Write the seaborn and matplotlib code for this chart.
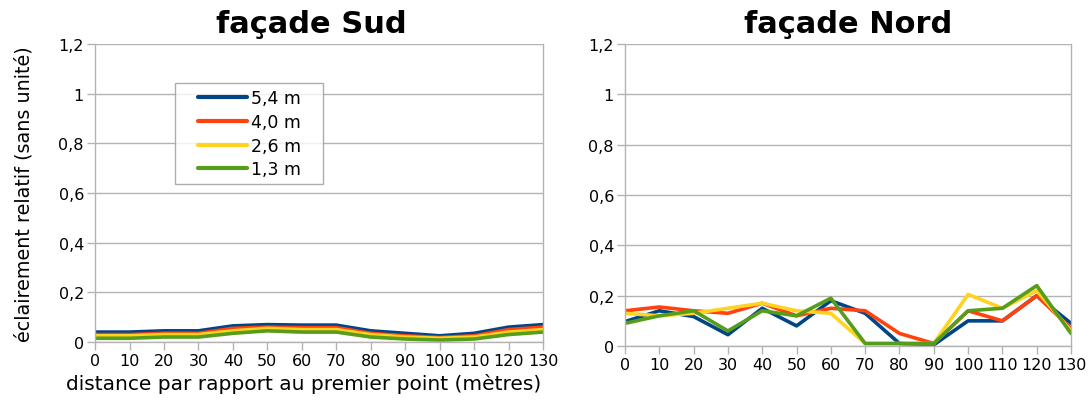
import numpy as np
import pandas as pd
import matplotlib
matplotlib.use('Agg')
import matplotlib.pyplot as plt
import seaborn as sns

# ------------------------------
# Données
# ------------------------------
distance = [0, 10, 20, 30, 40, 50, 60, 70, 80, 90, 100, 110, 120, 130]
hauteurs = ['5,4 m', '4,0 m', '2,6 m', '1,3 m']
couleurs = ['#004586', '#ff420e', '#ffd320', '#579d1c']

sud_54 = [0.040, 0.040, 0.045, 0.045, 0.065, 0.070, 0.068, 0.068, 0.045, 0.035, 0.025, 0.035, 0.060, 0.070]
sud_40 = [0.030, 0.030, 0.035, 0.035, 0.055, 0.060, 0.058, 0.058, 0.035, 0.025, 0.018, 0.025, 0.050, 0.060]
sud_26 = [0.025, 0.025, 0.030, 0.030, 0.045, 0.055, 0.050, 0.050, 0.030, 0.020, 0.015, 0.020, 0.040, 0.050]
sud_13 = [0.015, 0.015, 0.020, 0.020, 0.035, 0.045, 0.040, 0.040, 0.020, 0.012, 0.008, 0.012, 0.030, 0.040]

nord_54 = [0.097, 0.140, 0.117, 0.045, 0.150, 0.080, 0.180, 0.130, 0.010, 0.005, 0.100, 0.100, 0.200, 0.090]
nord_40 = [0.140, 0.155, 0.140, 0.130, 0.170, 0.120, 0.150, 0.140, 0.050, 0.010, 0.140, 0.100, 0.200, 0.070]
nord_26 = [0.130, 0.120, 0.130, 0.150, 0.170, 0.140, 0.130, 0.010, 0.010, 0.010, 0.205, 0.150, 0.220, 0.060]
nord_13 = [0.090, 0.120, 0.140, 0.060, 0.140, 0.120, 0.190, 0.010, 0.010, 0.010, 0.140, 0.150, 0.240, 0.050]


def to_long(series):
    frames = []
    for h, vals in zip(hauteurs, series):
        frames.append(pd.DataFrame({'distance': distance, 'valeur': vals, 'hauteur': h}))
    return pd.concat(frames, ignore_index=True)


df_sud = to_long([sud_54, sud_40, sud_26, sud_13])
df_nord = to_long([nord_54, nord_40, nord_26, nord_13])

# ------------------------------
# Figure
# ------------------------------
sns.set_theme(style='white')
plt.rcParams['font.family'] = ['DejaVu Sans']

fig = plt.figure(figsize=(10.9, 4.14), dpi=100)
ax1 = fig.add_axes([0.0872, 0.1715, 0.411, 0.7195])
ax2 = fig.add_axes([0.5734, 0.1618, 0.4092, 0.7295])

palette = dict(zip(hauteurs, couleurs))
grid_col = '#b3b3b3'


def style_axes(ax, title, title_x):
    ax.set_xlim(0, 130)
    ax.set_ylim(0, 1.2)
    ax.set_xticks(distance)
    ax.set_xticklabels([str(d) for d in distance], fontsize=11.5)
    ax.set_yticks([0, 0.2, 0.4, 0.6, 0.8, 1.0, 1.2])
    ax.set_yticklabels(['0', '0,2', '0,4', '0,6', '0,8', '1', '1,2'], fontsize=11.5)
    ax.yaxis.grid(True, color=grid_col, linewidth=1)
    ax.set_axisbelow(True)
    for s in ['left', 'right', 'bottom']:
        ax.spines[s].set_visible(True)
        ax.spines[s].set_color(grid_col)
        ax.spines[s].set_linewidth(1)
    ax.spines['top'].set_visible(False)
    ax.tick_params(axis='both', which='both', direction='out', length=6,
                   width=1, color=grid_col, labelcolor='black', pad=2,
                   bottom=True, left=True)
    ax.set_title(title, fontsize=22, fontweight='bold', color='black',
                 x=title_x, pad=9)


sns.lineplot(data=df_sud, x='distance', y='valeur', hue='hauteur',
             palette=palette, linewidth=2.6, ax=ax1, legend=True)
sns.lineplot(data=df_nord, x='distance', y='valeur', hue='hauteur',
             palette=palette, linewidth=2.6, ax=ax2, legend=False)

style_axes(ax1, 'façade Sud', 0.482)
style_axes(ax2, 'façade Nord', 0.5)

ax1.set_xlabel('distance par rapport au premier point (mètres)', fontsize=14.5,
               color='black', labelpad=1)
ax1.xaxis.set_label_coords(0.465, -0.105)
ax1.set_ylabel('éclairement relatif (sans unité)', fontsize=13.8,
               color='black', labelpad=18)
ax2.set_xlabel('')
ax2.set_ylabel('')

handles, labels = ax1.get_legend_handles_labels()
leg = ax1.legend(handles, [l + '   ' for l in labels], title=None,
                 loc='upper left', bbox_to_anchor=(0.179, 0.869),
                 fontsize=12.5, frameon=True, fancybox=False, handlelength=3.8,
                 handletextpad=0.2, labelspacing=0.33, borderpad=0.35,
                 borderaxespad=0)
leg.get_frame().set_edgecolor('#999999')
leg.get_frame().set_linewidth(1)
for text in leg.get_texts():
    text.set_color('black')
for line in leg.get_lines():
    line.set_linewidth(3)
    xd = np.asarray(line.get_xdata(), dtype=float)
    x0, x1 = xd.min(), xd.max()
    line.set_xdata(np.linspace(x0 + (x1 - x0) * 0.26, x1, len(xd)))

fig.savefig('out.png', dpi=100)
